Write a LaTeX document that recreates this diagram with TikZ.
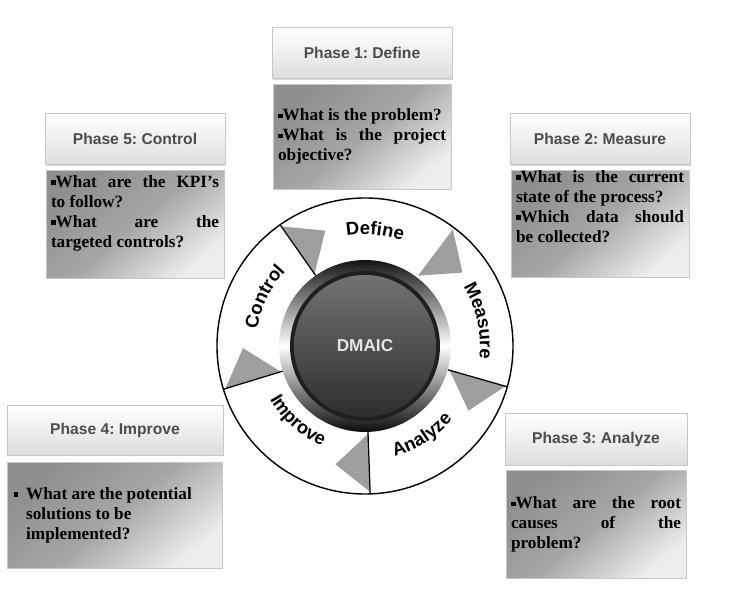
\documentclass[tikz,border=0pt]{standalone}
\usepackage{fontspec}
\setmainfont{Liberation Serif}
\setsansfont{Liberation Sans}
\usepackage{tikz}
\usetikzlibrary{positioning, shadows, decorations.text}
\newcommand{\sqb}{\raisebox{1.4pt}{\rule{2.7pt}{2.7pt}}}
\tolerance=10000
\hyphenpenalty=10000
\frenchspacing
\tikzset{
  head/.style={rectangle,draw=black!22,top color=white,bottom color=black!13,
    minimum width=3.6cm,minimum height=1.02cm,inner sep=2pt,
    font=\sffamily\bfseries\fontsize{8.9}{10}\selectfont,text=black!70,
    drop shadow={shadow xshift=0.7pt,shadow yshift=-0.7pt,opacity=0.3}},
  body/.style={rectangle,draw=black!22,top color=black!44,bottom color=black!7,
    middle color=black!35,shading angle=40,minimum width=3.56cm,
    minimum height=2.1cm,text width=3.36cm,align=justify,inner sep=0pt,
    font=\bfseries\fontsize{9.8}{11.4}\selectfont},
  ringtxt/.style={decorate,decoration={text along path,text align=center,
    text={|\sffamily\bfseries\fontsize{10.5}{12}\selectfont|#1}}}
}
\begin{document}
\frenchspacing
\begin{tikzpicture}
\useasboundingbox (0,0) rectangle (15,12.24);

% phase boxes
\node[head] (h1) at (7.24,11.18) {Phase 1: Define};
\node[body,below=0.1cm of h1] (b1)
  {\sqb What is the problem?\\\sqb What is the project\linebreak objective?};

\node[head] (h2) at (12,9.46) {Phase 2: Measure};
\node[body,below=0.1cm of h2,minimum height=2cm] (b2)
  {\sqb What is the current\linebreak state of the process?\\\sqb Which data should\linebreak be collected?\\[3mm]};

\node[head] (h5) at (2.7,9.46) {Phase 5: Control};
\node[body,below=0.1cm of h5,minimum height=2.16cm] (b5)
  {\sqb What are the KPI's\linebreak to follow?\\\sqb What are the\linebreak targeted controls?\\[1mm]};

\node[head,minimum width=4.32cm,minimum height=1cm] (h4) at (2.3,3.64) {Phase 4: Improve};
\node[body,below=0.14cm of h4,minimum width=4.3cm,text width=4.06cm,
  minimum height=2.12cm] (b4)
  {\begin{tabular}{@{}l@{\hspace{4.5pt}}l@{}}
   \sqb & What are the potential\\
        & solutions to be\\
        & implemented?
   \end{tabular}};

\node[head,minimum width=3.64cm,minimum height=1.04cm] (h3) at (11.92,3.46) {Phase 3: Analyze};
\node[body,below=0.1cm of h3,minimum width=3.6cm,text width=3.4cm,minimum height=2.16cm] (b3)
  {\sqb What are the root\linebreak causes of the\linebreak problem?};

% DMAIC wheel
\begin{scope}[shift={(7.3,5.32)}]
  \fill[white] (0,0) circle (2.96);
  \foreach \b in {125,53,-16,-88,-163}
    \fill[black!38] (\b:1.76) -- (\b:2.92) -- (\b-16:2.44) -- cycle;
  \foreach \b in {125,-16,-88,-163}
    \draw[line width=0.7pt] (\b:1.72) -- (\b:2.96);
  \draw[line width=0.8pt] (0,0) circle (2.96);
  \shade[top color=black!92,bottom color=black!95,middle color=white] (0,0) circle (1.72);
  \fill[black!88] (0,0) circle (1.5);
  \shade[top color=black!55,bottom color=black!82] (0,0) circle (1.42);
  \node[font=\sffamily\bfseries\fontsize{9.8}{11}\selectfont,text=black!10] (hub) at (0,0) {DMAIC};
  \path[ringtxt=Define] (120:2.23) arc[start angle=120,end angle=50,radius=2.23];
  \path[ringtxt=Measure] (48:2.3) arc[start angle=48,end angle=-23,radius=2.3];
  \path[ringtxt=Control] (190:2.18) arc[start angle=190,end angle=118,radius=2.18];
  \path[ringtxt=Analyze] (-93:2.28) arc[start angle=-93,end angle=-22,radius=2.28];
  \path[ringtxt=Improve] (-168:2.18) arc[start angle=-168,end angle=-96,radius=2.18];
\end{scope}
\end{tikzpicture}
\end{document}
